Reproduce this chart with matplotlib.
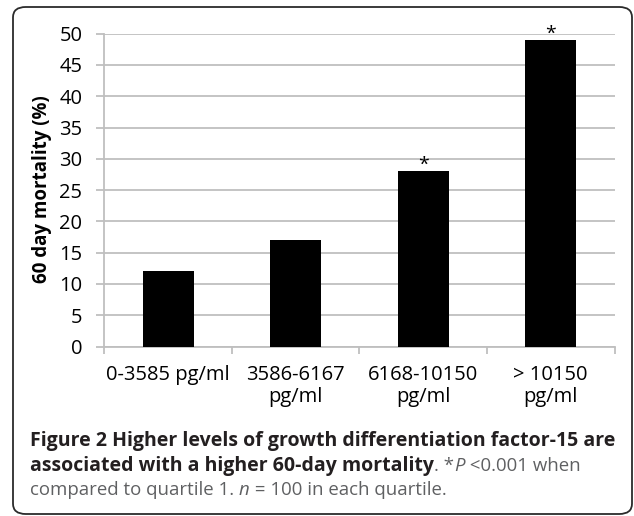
import matplotlib
matplotlib.use("Agg")
import matplotlib.pyplot as plt
from matplotlib.patches import FancyBboxPatch
from matplotlib.ticker import FixedLocator

categories = ["0-3585 pg/ml", "3586-6167\npg/ml", "6168-10150\npg/ml", "> 10150\npg/ml"]
mortality = [12, 17, 28, 49]
significant = [False, False, True, True]
y_ticks = [0, 5, 10, 15, 20, 25, 30, 35, 40, 45, 50]

W, H = 634, 516
fig = plt.figure(figsize=(W / 100, H / 100), dpi=100)
plt.rcParams['font.family'] = ['Open Sans', 'DejaVu Sans']

def fx(px):
    return px / W

def fy(py):
    return 1 - py / H

# rounded frame around everything
frame = FancyBboxPatch((fx(13), fy(514)), fx(632) - fx(13), fy(7) - fy(514),
                       boxstyle="round,pad=0,rounding_size=0.02",
                       transform=fig.transFigure, fill=False,
                       edgecolor="#2b2b2b", linewidth=1.3)
fig.patches.append(frame)

left, right, top, bottom = 104.3, 614.5, 33.7, 346.5
ax = fig.add_axes([fx(left), fy(bottom), fx(right) - fx(left), fy(top) - fy(bottom)])

x = list(range(len(categories)))
ax.bar(x, mortality, width=0.4, color="black", zorder=3)
ax.set_xlim(-0.5, len(categories) - 0.5)
ax.set_ylim(0, 50)
ax.set_yticks(y_ticks)
ax.set_yticklabels([str(v) for v in y_ticks])

grid_c = "#bfbfbf"
ax.yaxis.grid(True, color=grid_c, linewidth=1.3, zorder=0)
ax.set_axisbelow(True)
for s in ["top", "right"]:
    ax.spines[s].set_visible(False)
ax.spines["left"].set_color(grid_c)
ax.spines["bottom"].set_color(grid_c)
ax.spines["left"].set_linewidth(1.3)
ax.spines["bottom"].set_linewidth(1.3)

ax.tick_params(axis="y", length=5.8, width=1.3, color=grid_c, pad=10,
               labelsize=14.5, labelcolor="#000000")
ax.set_xticks(x)
ax.set_xticklabels(categories, fontsize=14.5, linespacing=1.15)
ax.tick_params(axis="x", which="major", length=5, width=0, pad=8)
ax.xaxis.set_minor_locator(FixedLocator([i - 0.5 for i in range(len(categories) + 1)]))
ax.tick_params(axis="x", which="minor", length=5, width=1.3, color=grid_c)

for i, (v, sig) in enumerate(zip(mortality, significant)):
    if sig:
        ax.text(i, v - 0.4, "*", ha="center", va="bottom", fontsize=14, color="black")

fig.text(fx(42), fy(189), "60 day mortality (%)", rotation=90, ha="center", va="center",
         fontsize=13.5, fontweight="bold", color="black")

# caption
renderer = fig.canvas.get_renderer()
bold_size = 14.0
reg_size = 13.4
dark = "#231f20"
grey = "#5f6062"

def draw_runs(x0, ybase, runs):
    xcur = fx(x0)
    for txt, weight, style, color in runs:
        size = bold_size if weight == "bold" else reg_size
        t = fig.text(xcur, fy(ybase), txt, fontsize=size, fontweight=weight,
                     fontstyle=style, color=color, ha="left", va="baseline")
        bb = t.get_window_extent(renderer=renderer)
        xcur += bb.width / W

draw_runs(30, 446, [("Figure 2 Higher levels of growth differentiation factor-15 are", "bold", "normal", dark)])
draw_runs(30, 471, [("associated with a higher 60-day mortality", "bold", "normal", dark),
                    (". *", "normal", "normal", grey),
                    ("P", "normal", "italic", grey),
                    (" <0.001 when", "normal", "normal", grey)])
draw_runs(30, 495, [("compared to quartile 1. ", "normal", "normal", grey),
                    ("n", "normal", "italic", grey),
                    (" = 100 in each quartile.", "normal", "normal", grey)])

fig.savefig("out.png", dpi=100)
